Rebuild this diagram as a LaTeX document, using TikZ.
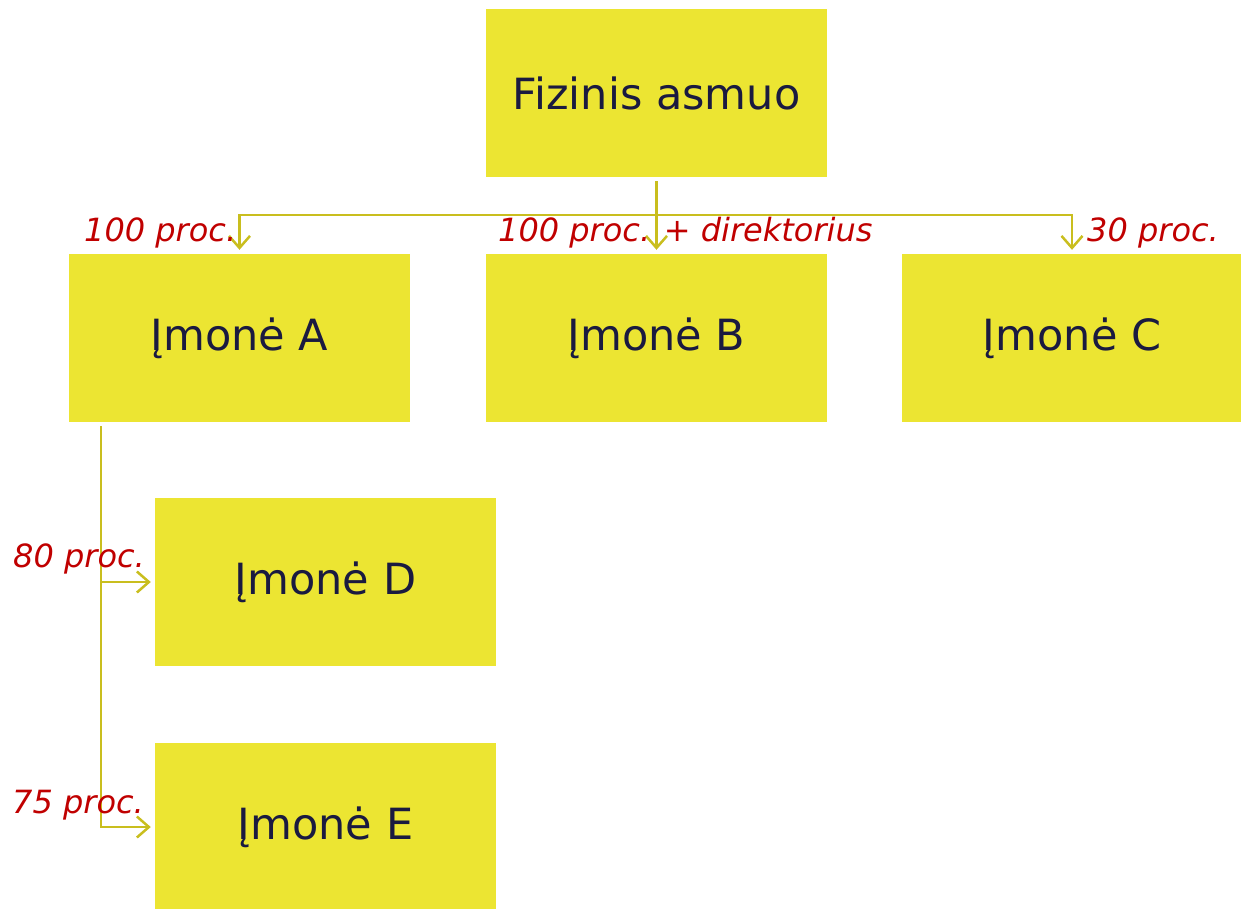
\documentclass[tikz,border=0pt]{standalone}
\usepackage{fontspec}
\setmainfont{DejaVu Sans}
\usepackage{tikz}
\usetikzlibrary{positioning}
\usetikzlibrary{arrows.meta}
\definecolor{boxy}{HTML}{ECE532}
\definecolor{inky}{HTML}{1A1A40}
\definecolor{liny}{HTML}{C9BE1E}
\definecolor{pctred}{HTML}{C00000}
\tikzset{
    firm/.style = {rectangle, fill=boxy, minimum width=341pt, minimum height=168pt, inner sep=0pt, text=inky, font=\fontsize{43}{50}\selectfont},
    edgey/.style = {-{Straight Barb[length=12pt,width=21pt]}, line width=2.5pt, draw=liny, shorten >=4pt, shorten <=4pt},
    pct/.style = {text=pctred, font=\fontsize{32}{38}\selectfont\itshape, inner sep=0pt},
}

\begin{document}
\begin{tikzpicture}[x=1pt,y=-1pt]
\useasboundingbox (0,0) rectangle (1241,908);
\node[firm] at (656.5, 93) (fiz) {Fizinis asmuo};
\node[firm] at (239.5, 338) (a) {Įmonė A};
\node[firm] at (656.5, 338) (b) {Įmonė B};
\node[firm] at (1072, 338) (c) {Įmonė C};
\node[firm] at (325.5, 582) (d) {Įmonė D};
\node[firm] at (325.5, 827) (e) {Įmonė E};
\coordinate (split) at (656.5, 215);
\coordinate (trunk) at (101, 422);
%
\draw[edgey] (fiz) -- (split) -| (a);
\draw[edgey, shorten <=0pt] (split) -- (b);
\draw[edgey, shorten <=0pt] (split) -| (c);
\draw[edgey] (trunk) |- (d);
\draw[edgey] (trunk) |- (e);
%
\node[pct, anchor=west] at (84, 233) (pa) {100 proc.};
\node[pct, anchor=west] at (498, 233) (pb) {100 proc. + direktorius};
\node[pct, anchor=west] at (1087, 233) (pc) {30 proc.};
\node[pct, anchor=west] at (13, 559) (pd) {80 proc.};
\node[pct, anchor=west] at (12, 805) (pe) {75 proc.};
\end{tikzpicture}
\end{document}
